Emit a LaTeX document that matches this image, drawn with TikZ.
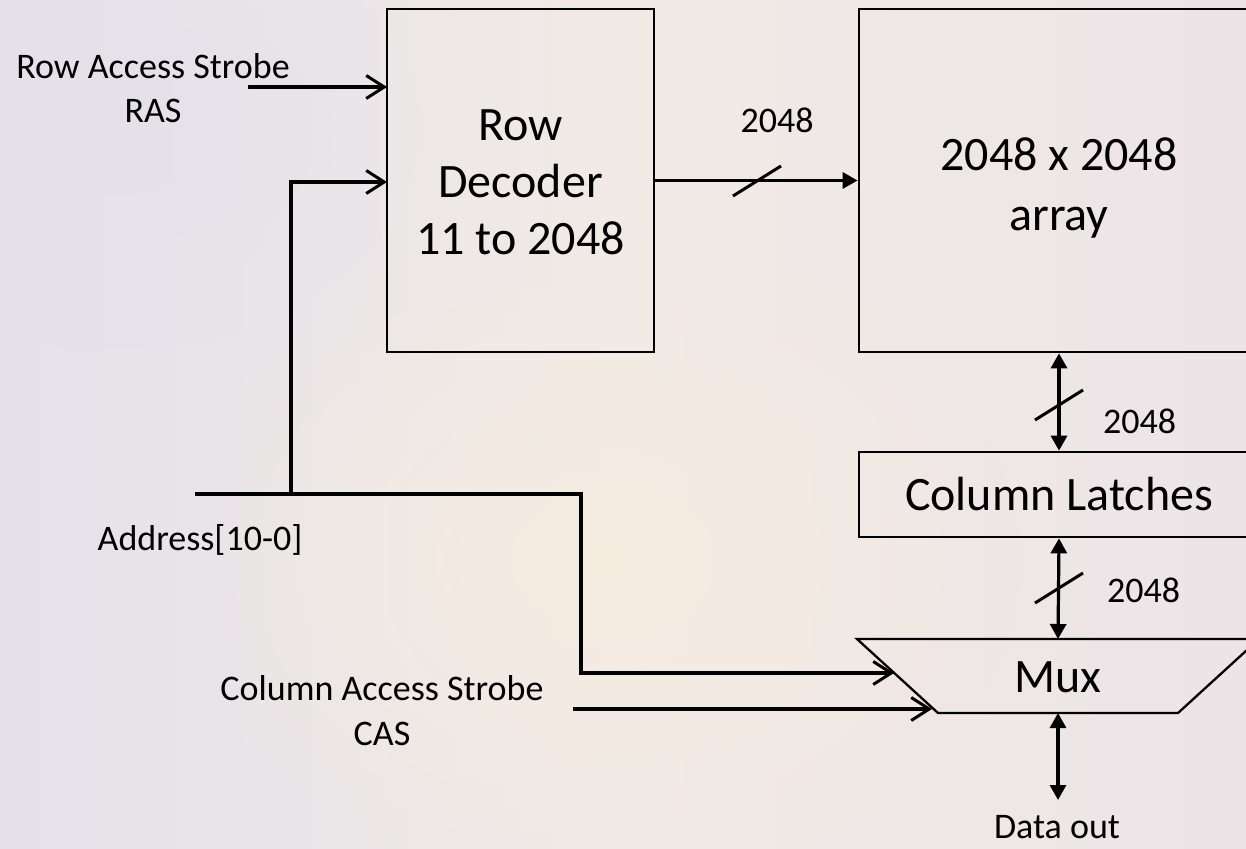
\documentclass[tikz,border=0pt]{standalone}
\usepackage{fontspec}
\setmainfont{Carlito}
\usetikzlibrary{arrows.meta,calc,fadings}
\definecolor{bgleft}{HTML}{E4E1EA}
\definecolor{bgmid}{HTML}{F1EAE6}
\definecolor{bgright}{HTML}{ECE4E7}
\definecolor{bgpeach}{HTML}{F6EDE0}
\tikzfading[name=softglow, inner color=transparent!0, outer color=transparent!100]
\begin{document}
\begin{tikzpicture}[x=1pt,y=-1pt,
  blockbox/.style={draw=black,line width=2.7pt,inner sep=0pt},
  bigtext/.style={inner sep=0pt,align=center,font=\fontsize{48}{57}\selectfont},
  smalltext/.style={inner sep=0pt,align=center,font=\fontsize{36}{44}\selectfont},
  wire/.style={line width=3.2pt,line cap=butt},
  barb/.style={-{Straight Barb[length=18pt,width=23pt,line width=3pt]}},
  tri/.style={-{Triangle[length=15pt,width=16pt]}},
  bitri/.style={{Triangle[length=15pt,width=16pt]}-{Triangle[length=15pt,width=16pt]}},
  slashline/.style={line width=3pt}
]
\useasboundingbox (0,0) rectangle (1246,848);
\clip (0,0) rectangle (1246,848);
% background
\shade[left color=bgleft,right color=bgright,middle color=bgmid] (0,0) rectangle (1246,848);
\fill[bgpeach,path fading=softglow,opacity=0.9] (600,560) ellipse (420 and 330);
\fill[bgleft,path fading=softglow,opacity=0.7] (120,130) ellipse (300 and 220);

% blocks
\node[blockbox,minimum width=267pt,minimum height=343pt] (dec) at (520.5,180.5) {};
\node[bigtext,anchor=north] (dectext) at (520.5,110) {Row\\Decoder\\11 to 2048};
\node[blockbox,minimum width=400pt,minimum height=343pt] (arr) at (1059,180.5) {};
\node[bigtext,anchor=north,font=\fontsize{48}{60}\selectfont] (arrtext) at (1059,138) {2048 x 2048\\array};
\node[blockbox,minimum width=400pt,minimum height=85pt,font=\fontsize{48}{57}\selectfont] (lat) at (1059,494.5) {Column Latches};

% mux trapezoid
\coordinate (mtl) at (857,639);
\coordinate (mtr) at (1259,639);
\coordinate (mbr) at (1178,713);
\coordinate (mbl) at (938,713);
\draw[line width=2.3pt,line join=miter] (mtl) -- (mtr) -- (mbr) -- (mbl) -- cycle;
\node[bigtext,anchor=base] (mux) at (1058,692) {Mux};
\coordinate (muxtop) at (1058,639);
\coordinate (muxbot) at (1058,713);
\coordinate (muxin1) at (894,673);
\coordinate (muxin2) at (932,709);

% labels
\node[smalltext,anchor=north] (raslbl) at (153,53) {Row Access Strobe\\RAS};
\node[smalltext,anchor=north,font=\fontsize{36}{45}\selectfont] (caslbl) at (382,675) {Column Access Strobe\\CAS};
\node[smalltext,anchor=base] (addrlbl) at (200,550) {Address[10-0]};
\node[smalltext,anchor=base] (w1) at (777,132) {2048};
\node[smalltext,anchor=base west] (w2) at (1103,433) {2048};
\node[smalltext,anchor=base west] (w3) at (1107,602) {2048};
\node[smalltext,anchor=base] (dout) at (1057,838) {Data out};

% connector endpoints
\coordinate (rasstart) at (248,87);
\coordinate (rasin) at (387,87);
\coordinate (addrstart) at (195,494);
\coordinate (split) at (291,494);
\coordinate (addrin) at (387,182);
\coordinate (bend) at (581,494);
\coordinate (casstart) at (573,709);
\coordinate (dataend) at (1058,800);

% connectors
\draw[wire,barb] (rasstart) -- (rasin);
\draw[wire,barb] (split) |- (addrin);
\draw[wire,barb] (addrstart) -- (bend) |- (muxin1);
\draw[wire,barb] (casstart) -- (muxin2);
\draw[wire,tri] (dec.east) -- (dec.east -| arr.west);
\draw[wire,bitri] (arr.south) -- (lat.north);
\draw[wire,bitri] (lat.south) -- (muxtop);
\draw[wire,bitri] (muxbot) -- (dataend);

% bus slashes
\coordinate (s1) at (757,181);
\coordinate (s2) at (1059,405);
\coordinate (s3) at (1059,588);
\draw[slashline] ($(s1)+(-24,15)$) -- ($(s1)+(24,-15)$);
\draw[slashline] ($(s2)+(-24,15)$) -- ($(s2)+(24,-15)$);
\draw[slashline] ($(s3)+(-24,15)$) -- ($(s3)+(24,-15)$);
\end{tikzpicture}
\end{document}
